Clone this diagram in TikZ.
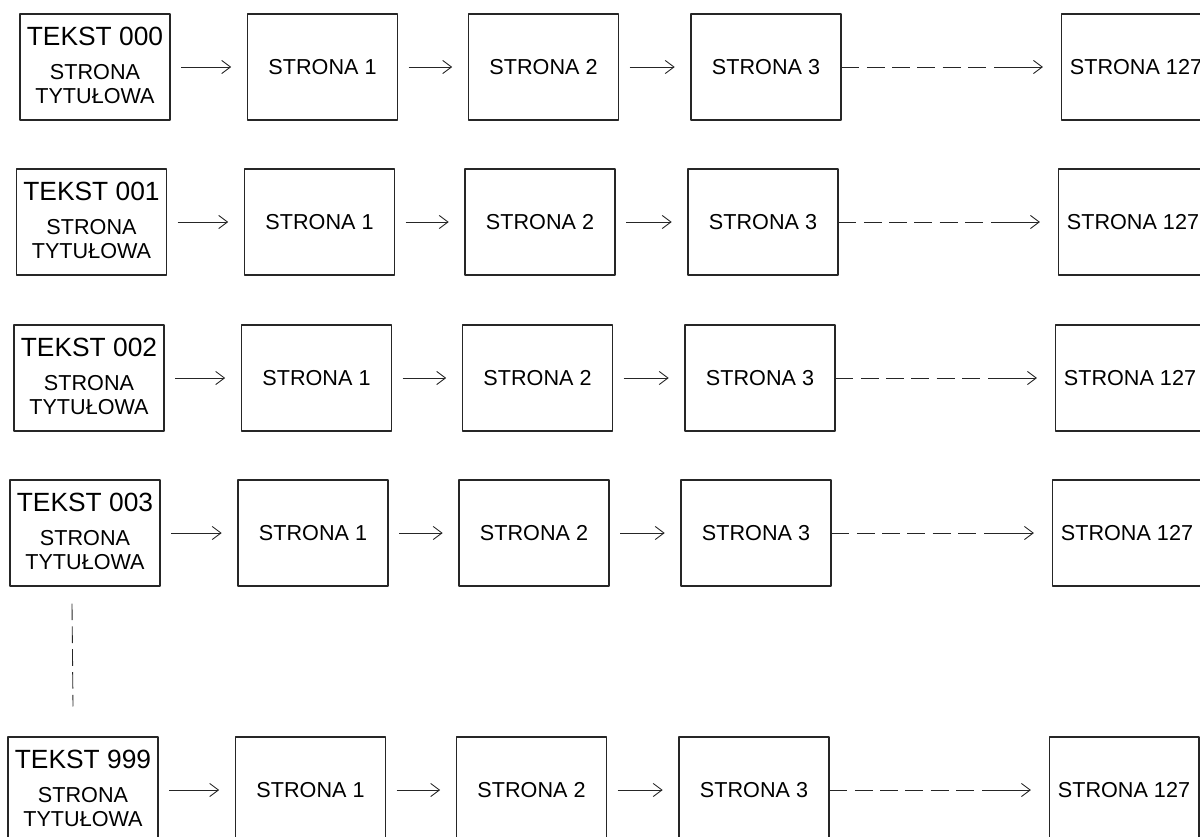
\documentclass[tikz,border=0pt]{standalone}
\usepackage{fontspec}
\setmainfont{Liberation Sans}
\usetikzlibrary{arrows.meta}

\tikzset{
  tytul/.style={draw=black!85, line width=0.6pt, minimum width=3cm, minimum height=2.12cm,
    align=center, inner sep=0pt, text depth=1.4pt, font=\fontsize{12.3}{13.7}\selectfont},
  strona/.style={draw=black!85, line width=0.6pt, minimum width=3cm, minimum height=2.12cm,
    inner sep=0pt, font=\fontsize{12.3}{15}\selectfont},
  arr/.style={black!85, line width=0.5pt, -{Straight Barb[length=5pt,width=7.5pt]},
    shorten <=6pt, shorten >=9pt},
  dalej/.style={black!85, line width=0.5pt, dash pattern=on 10.2pt off 4.2pt},
  pion/.style={black!85, line width=0.5pt, dash pattern=on 9.5pt off 3.5pt}
}

\begin{document}
\begin{tikzpicture}[x=0.02cm, y=-0.02cm, line join = round]
                \useasboundingbox (0,0) rectangle (1200,836);
                % tekst 000
                \node[tytul]  (t0) at (95,67)     {{\fontsize{15}{17}\selectfont TEKST 000}\\[5.6pt]STRONA\\TYTUŁOWA};
                \node[strona] (a0) at (322.5,67)  {STRONA 1};
                \node[strona] (b0) at (543.5,67)  {STRONA 2};
                \node[strona] (c0) at (766,67)    {STRONA 3};
                \node[strona] (d0) at (1136,67)   {STRONA 127};
                \coordinate (g0) at ([shift={(145,0)}]c0.east);
                % tekst 001
                \node[tytul]  (t1) at (91.5,222)  {{\fontsize{15}{17}\selectfont TEKST 001}\\[5.6pt]STRONA\\TYTUŁOWA};
                \node[strona] (a1) at (319.5,222) {STRONA 1};
                \node[strona] (b1) at (540,222)   {STRONA 2};
                \node[strona] (c1) at (763,222)   {STRONA 3};
                \node[strona] (d1) at (1133,222)  {STRONA 127};
                \coordinate (g1) at ([shift={(145,0)}]c1.east);
                % tekst 002
                \node[tytul]  (t2) at (89,378)    {{\fontsize{15}{17}\selectfont TEKST 002}\\[5.6pt]STRONA\\TYTUŁOWA};
                \node[strona] (a2) at (316.5,378) {STRONA 1};
                \node[strona] (b2) at (537.5,378) {STRONA 2};
                \node[strona] (c2) at (760,378)   {STRONA 3};
                \node[strona] (d2) at (1130,378)  {STRONA 127};
                \coordinate (g2) at ([shift={(145,0)}]c2.east);
                % tekst 003
                \node[tytul]  (t3) at (85,533)    {{\fontsize{15}{17}\selectfont TEKST 003}\\[5.6pt]STRONA\\TYTUŁOWA};
                \node[strona] (a3) at (313,533)   {STRONA 1};
                \node[strona] (b3) at (534,533)   {STRONA 2};
                \node[strona] (c3) at (756,533)   {STRONA 3};
                \node[strona] (d3) at (1127,533)  {STRONA 127};
                \coordinate (g3) at ([shift={(145,0)}]c3.east);
                % tekst 999
                \node[tytul]  (t4) at (83,790)    {{\fontsize{15}{17}\selectfont TEKST 999}\\[5.6pt]STRONA\\TYTUŁOWA};
                \node[strona] (a4) at (310.5,790) {STRONA 1};
                \node[strona] (b4) at (531.5,790) {STRONA 2};
                \node[strona] (c4) at (754,790)   {STRONA 3};
                \node[strona] (d4) at (1124,790)  {STRONA 127};
                \coordinate (g4) at ([shift={(145,0)}]c4.east);

                % arrows 000
                \draw[arr] (t0.east) -- (a0.west);
                \draw[arr] (a0.east) -- (b0.west);
                \draw[arr] (b0.east) -- (c0.west);
                \draw[dalej] (c0.east) -- (g0);
                \draw[arr, shorten <=4.5pt, shorten >=10pt] (g0) -- (d0.west);
                % arrows 001
                \draw[arr] (t1.east) -- (a1.west);
                \draw[arr] (a1.east) -- (b1.west);
                \draw[arr] (b1.east) -- (c1.west);
                \draw[dalej] (c1.east) -- (g1);
                \draw[arr, shorten <=4.5pt, shorten >=10pt] (g1) -- (d1.west);
                % arrows 002
                \draw[arr] (t2.east) -- (a2.west);
                \draw[arr] (a2.east) -- (b2.west);
                \draw[arr] (b2.east) -- (c2.west);
                \draw[dalej] (c2.east) -- (g2);
                \draw[arr, shorten <=4.5pt, shorten >=10pt] (g2) -- (d2.west);
                % arrows 003
                \draw[arr] (t3.east) -- (a3.west);
                \draw[arr] (a3.east) -- (b3.west);
                \draw[arr] (b3.east) -- (c3.west);
                \draw[dalej] (c3.east) -- (g3);
                \draw[arr, shorten <=4.5pt, shorten >=10pt] (g3) -- (d3.west);
                % arrows 999
                \draw[arr] (t4.east) -- (a4.west);
                \draw[arr] (a4.east) -- (b4.west);
                \draw[arr] (b4.east) -- (c4.west);
                \draw[dalej] (c4.east) -- (g4);
                \draw[arr, shorten <=4.5pt, shorten >=10pt] (g4) -- (d4.west);

                % 003 ... 999
                \draw[pion] ([shift={(-13,17)}]t3.south) -- ([shift={(-10,-30)}]t4.north);
\end{tikzpicture}
\end{document}
